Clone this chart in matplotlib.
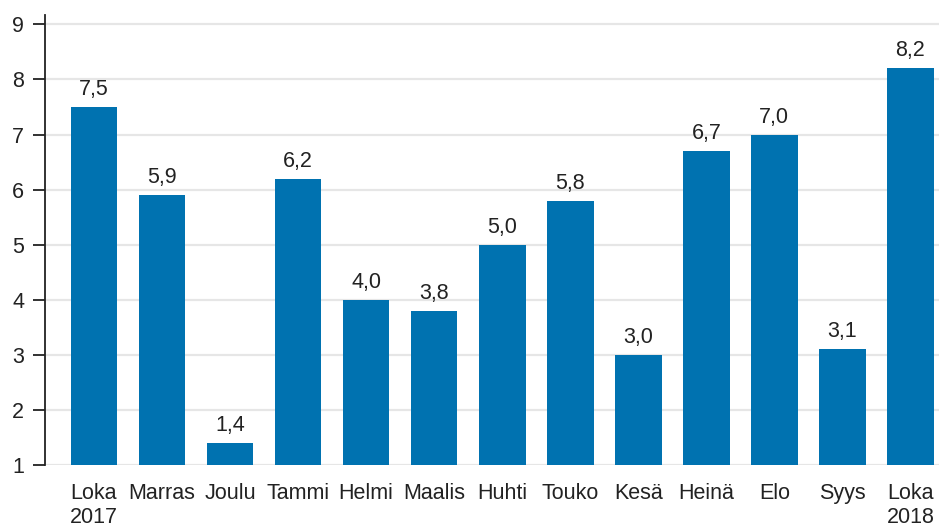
import matplotlib.pyplot as plt

# Data
kuukaudet = ['Loka\n2017', 'Marras', 'Joulu', 'Tammi', 'Helmi', 'Maalis', 'Huhti',
             'Touko', 'Kesä', 'Heinä', 'Elo', 'Syys', 'Loka\n2018']
arvot = [7.5, 5.9, 1.4, 6.2, 4.0, 3.8, 5.0, 5.8, 3.0, 6.7, 7.0, 3.1, 8.2]
y_ticks = [1, 2, 3, 4, 5, 6, 7, 8, 9]

plt.rcParams['font.family'] = ['Liberation Sans', 'DejaVu Sans']
plt.rcParams['font.size'] = 15.5

fig = plt.figure(figsize=(9.39, 5.30), dpi=100)
ax = fig.add_axes([45 / 939, 65 / 530, 1 - 45 / 939, 450 / 530])

x = range(len(arvot))
bars = ax.bar(x, arvot, width=0.685, color='#0072B0', zorder=3)

# value labels above bars
for xi, v in zip(x, arvot):
    ax.annotate(f'{v:.1f}'.replace('.', ','), (xi, v), xytext=(0, 5),
                textcoords='offset points', ha='center', va='bottom', color='#222222')

ax.set_ylim(1, 9.17)
ax.set_xlim(-0.72, 12.42)
ax.set_yticks(y_ticks)
ax.set_xticks(list(x))
ax.set_xticklabels(kuukaudet, linespacing=1.2)

ax.grid(axis='y', color='#e6e6e6', linewidth=1.6, zorder=0)
for s in ['top', 'right', 'bottom']:
    ax.spines[s].set_visible(False)
ax.spines['left'].set_linewidth(1.3)
ax.spines['left'].set_color('#222222')
ax.tick_params(axis='y', length=9, width=1.3, pad=6, colors='#222222')
ax.tick_params(axis='x', length=0, pad=13, colors='#222222')

plt.savefig('out.png', dpi=100)
